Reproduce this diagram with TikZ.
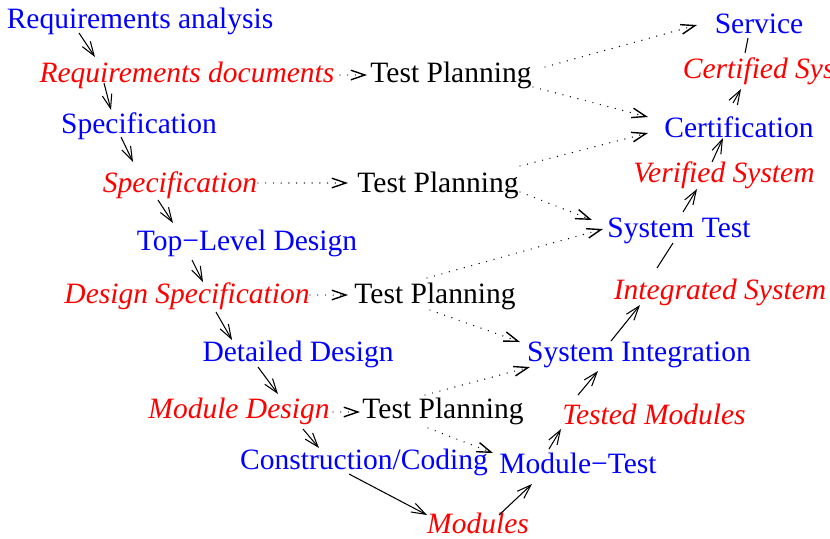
\documentclass[tikz,border=0pt]{standalone}
\usepackage{fontspec}
\setmainfont{Liberation Serif}
\usetikzlibrary{arrows.meta,calc}

\tikzset{
  lbl/.style={anchor=base,inner sep=0pt,font=\fontsize{16.8}{20}\selectfont},
  phase/.style={lbl,text=blue},
  doc/.style={lbl,text=red,font=\fontsize{16.8}{20}\selectfont\itshape},
  plan/.style={lbl,text=black},
  flow/.style={-{Straight Barb[length=8pt,width=5.5pt]},semithick},
  link/.style={semithick},
  plans/.style={flow,line width=0.8pt,line cap=round,dash pattern=on 0pt off 4.4pt}
}

\begin{document}
\begin{tikzpicture}[x=0.02cm,y=-0.02cm]
  \useasboundingbox (0,0) rectangle (830,538);
  % left branch
  \node[phase] (ra)   at (140,28)  {Requirements analysis};
  \node[doc]   (rd)   at (187,82)  {Requirements documents};
  \node[phase] (sp)   at (139,133) {Specification};
  \node[doc]   (spd)  at (180,192) {Specification};
  \node[phase] (tld)  at (247,250) {Top−Level Design};
  \node[doc]   (dsd)  at (187,303) {Design Specification};
  \node[phase] (dd)   at (298,361) {Detailed Design};
  \node[doc]   (mdd)  at (239,418) {Module Design};
  \node[phase] (cc)   at (364,469) {Construction/Coding};
  \node[doc]   (mods) at (478,533) {Modules};
  % right branch
  \node[phase] (mt)   at (578,473) {Module−Test};
  \node[doc]   (tm)   at (654,424) {Tested Modules};
  \node[phase] (si)   at (639,361) {System Integration};
  \node[doc]   (is)   at (720,299) {Integrated System};
  \node[phase] (st)   at (679,237) {System Test};
  \node[doc]   (vs)   at (724,182) {Verified System};
  \node[phase] (ce)   at (739,137) {Certification};
  \node[doc]   (cs)   at (780,78)  {Certified System};
  \node[phase] (sv)   at (759,33)  {Service};
  % test planning
  \node[plan] (tp1) at (451,82)  {Test Planning};
  \node[plan] (tp2) at (438,192) {Test Planning};
  \node[plan] (tp3) at (435,303) {Test Planning};
  \node[plan] (tp4) at (443,418) {Test Planning};

  % down the V
  \draw[flow] ($(ra.base)+(-61,5)$)   -- ($(rd.base)+(-92,-25)$);
  \draw[flow] ($(rd.base)+(-83,1)$)   -- ($(sp.base)+(-28,-23)$);
  \draw[flow] ($(sp.base)+(-18,4)$)   -- ($(spd.base)+(-47,-30)$);
  \draw[flow] ($(spd.base)+(-22,8)$)  -- ($(tld.base)+(-74,-27)$);
  \draw[flow] ($(tld.base)+(-55,10)$) -- ($(dsd.base)+(16,-21)$);
  \draw[flow] ($(dsd.base)+(29,9)$)   -- ($(dd.base)+(-66,-21)$);
  \draw[flow] ($(dd.base)+(-40,6)$)   -- ($(mdd.base)+(39,-24)$);
  \draw[flow] ($(mdd.base)+(64,11)$)  -- ($(cc.base)+(-45,-21)$);
  \draw[flow] ($(cc.base)+(-15,5)$)   -- ($(mods.base)+(-51,-18)$);
  % up the V
  \draw[flow] ($(mods.base)+(21,-18)$) -- ($(mt.base)+(-46,11)$);
  \draw[flow] ($(mt.base)+(-29,-24)$)  -- ($(tm.base)+(-93,5)$);
  \draw[flow] ($(tm.base)+(-76,-29)$)  -- ($(si.base)+(-41,10)$);
  \draw[flow] ($(si.base)+(-28,-20)$)  -- ($(is.base)+(-80,6)$);
  \draw[link] ($(is.base)+(-63,-31)$)  -- ($(st.base)+(-6,6)$);
  \draw[flow] ($(st.base)+(4,-25)$)    -- ($(vs.base)+(-27,7)$);
  \draw[flow] ($(vs.base)+(-12,-20)$)  -- ($(ce.base)+(-16,1)$);
  \draw[flow] ($(ce.base)+(-6,-34)$)   -- ($(cs.base)+(-39,11)$);
  \draw[link] ($(cs.base)+(-35,-25)$)  -- ($(sv.base)+(-11,5)$);

  % documents to test planning
  \draw[plans] ($(rd.base)+(153,-7)$)  -- ($(tp1.base)+(-84,-7)$);
  \draw[plans] ($(spd.base)+(78,-9)$)  -- ($(tp2.base)+(-90,-9)$);
  \draw[plans] ($(dsd.base)+(123,-8)$) -- ($(tp3.base)+(-87,-8)$);
  \draw[plans] ($(mdd.base)+(94,-6)$)  -- ($(tp4.base)+(-83,-6)$);
  % test planning to the right branch
  \draw[plans] ($(tp1.base)+(94,-15)$) -- ($(sv.base)+(-62,-8)$);
  \draw[plans] ($(tp1.base)+(82,5)$)   -- ($(ce.base)+(-91,-20)$);
  \draw[plans] ($(tp2.base)+(82,-26)$) -- ($(ce.base)+(-91,-4)$);
  \draw[plans] ($(tp2.base)+(82,0)$)   -- ($(st.base)+(-87,-17)$);
  \draw[plans] ($(tp3.base)+(-8,-25)$) -- ($(st.base)+(-76,-8)$);
  \draw[plans] ($(tp3.base)+(-5,7)$)   -- ($(si.base)+(-119,-19)$);
  \draw[plans] ($(tp4.base)+(-18,-23)$) -- ($(si.base)+(-109,6)$);
  \draw[plans] ($(tp4.base)+(-15,10)$) -- ($(mt.base)+(-85,-20)$);
\end{tikzpicture}
\end{document}
